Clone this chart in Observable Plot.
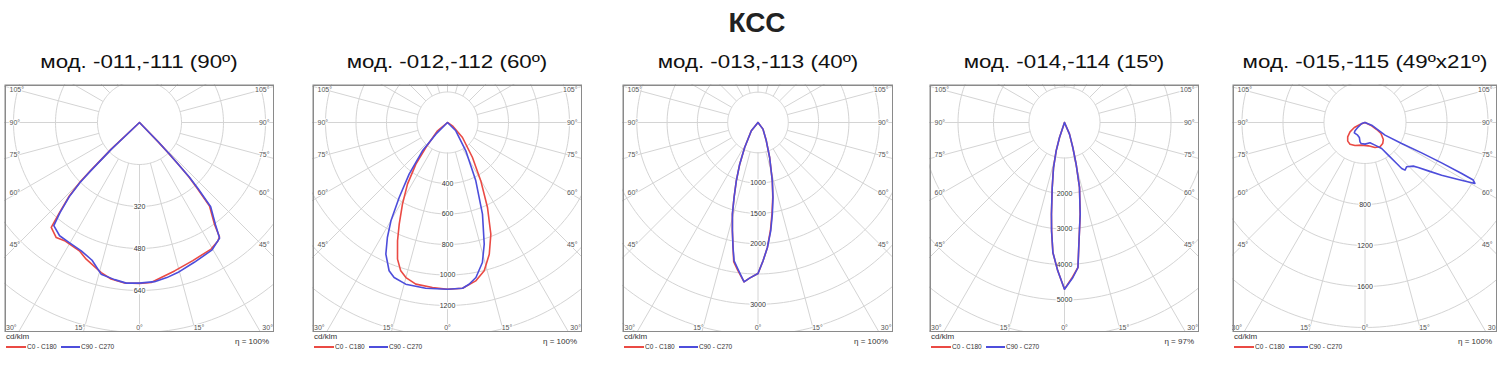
<!DOCTYPE html>
<html>
<head>
<meta charset="utf-8">
<script src="https://cdn.jsdelivr.net/npm/d3@7"></script>
<script src="https://cdn.jsdelivr.net/npm/@observablehq/plot@0.6"></script>
<style>
  html,body{margin:0;padding:0;background:#fff;}
  body{font-family:"Liberation Sans",Arial,Helvetica,sans-serif;}
  #root{position:relative;width:1500px;height:378px;overflow:hidden;background:#fff;}
  #title{position:absolute;left:0;top:6px;width:1514px;text-align:center;font-weight:bold;font-size:28px;line-height:34px;color:#222;}
  .ptitle{position:absolute;top:50px;width:320px;height:24px;line-height:24px;text-align:center;font-size:18px;color:#111;white-space:nowrap;transform:scaleX(1.24);}
  .plotbox{position:absolute;top:84px;}
  .lg{position:absolute;white-space:nowrap;color:#333;}
  .ln{position:absolute;height:1.5px;}
</style>
</head>
<body>
<div id="root"><div id="title"></div></div>
<script>
// ---------------- data ----------------
const mainTitle = "КСС";
const panelTitles = ["мод. -011,-111 (90º)", "мод. -012,-112 (60º)", "мод. -013,-113 (40º)", "мод. -014,-114 (15º)", "мод. -015,-115 (49ºx21º)"];
const efficiency = ["η = 100%", "η = 100%", "η = 100%", "η = 97%", "η = 100%"];
const seriesNames = ["C0 - C180", "C90 - C270"];
const unitLabel = "cd/klm";
const ringSteps = [160, 200, 500, 1000, 400];
const ringLabels = [
  [320, 480, 640],
  [400, 600, 800, 1000, 1200],
  [1000, 1500, 2000, 3000],
  [2000, 3000, 4000, 5000],
  [800, 1200, 1600]
];
const sideAngles = [105, 90, 75, 60, 45];
const bottomAngles = [-30, -15, 0, 15, 30];
const spokeAngles = d3.range(0, 360, 15);

// [gamma (deg from nadir, negative = left half-plane), intensity cd/klm]
const p1_C0 = [[-90,0],[-46.7,148],[-45.5,260],[-45,318],[-43.7,386],[-41.6,459],[-40.1,522],[-35.9,541],[-32.4,533],[-25.1,540],[-21.3,559],[-14.3,590],[-10.3,606],[-5.3,614],[0,613],[4.2,611],[8,596],[13.3,581],[21.1,564],[29.5,554],[33.5,541],[35,531],[36.4,481],[40,415],[41.3,333],[42.3,279],[42.8,216],[43.5,153],[44,100],[90,0]];
const p1_C90 = [[-90,0],[-46.5,150],[-45.3,262],[-44.7,322],[-43.4,390],[-41.4,458],[-39.7,511],[-35.2,528],[-30.5,530],[-24.4,537],[-19,555],[-14.2,596],[-9,606],[-4.7,614],[0,612],[5.4,609],[10,600],[14.3,590],[21.4,572],[29.5,559],[34.7,536],[36.6,486],[40.2,420],[41.5,336],[42.4,282],[42.9,218],[43.6,155],[44.1,102],[90,0]];
const p2_C0 = [[-90,0],[-50.2,85],[-40.9,217],[-37.2,343],[-33,482],[-28.9,611],[-25.4,738],[-22.9,842],[-20.1,954],[-17.5,1020],[-15,1053],[-11.1,1080],[-5.2,1087],[0,1093],[5.2,1091],[10.1,1055],[13.9,1002],[17.6,906],[21.2,786],[25.2,616],[29.7,441],[35.5,282],[45,139],[56,39],[90,0]];
const p2_C90 = [[-90,0],[-45,108],[-41.4,248],[-36.6,422],[-32.8,585],[-29.9,744],[-27.6,851],[-25.1,953],[-21.5,1045],[-19,1075],[-14.5,1095],[-7.5,1096],[0,1093],[5.2,1091],[7.6,1070],[10.4,1033],[14,946],[16.8,833],[20.9,643],[25.9,425],[32.9,221],[45,77],[90,0]];
const p3_C0 = [[-90,0],[-38.7,176],[-28.1,468],[-23.7,751],[-20.4,1027],[-17.7,1299],[-15.6,1571],[-13.3,1837],[-11.3,2103],[-9.9,2330],[-7.9,2455],[-5,2639],[-3.1,2572],[0,2492],[2.1,2284],[4.3,2068],[6.6,1790],[8.8,1515],[11.2,1255],[13.8,991],[18.4,609],[24.4,332],[36.9,137],[90,0]];
const p3_C90 = [[-90,0],[-38.7,176],[-28.1,468],[-23.7,751],[-20.4,1027],[-17.7,1299],[-15.6,1571],[-13.3,1837],[-11.3,2103],[-9.8,2317],[-7.8,2442],[-5,2639],[-3.1,2572],[0,2492],[2.1,2284],[4.3,2068],[6.7,1800],[8.9,1530],[11.3,1262],[13.8,991],[18.4,609],[24.4,332],[36.9,137],[90,0]];
const p4_C0 = [[-90,0],[-18.4,445],[-16.4,832],[-13.7,1305],[-10.7,1864],[-8.1,2608],[-6.8,3074],[-5.1,3677],[-2.6,4183],[0,4695],[2.6,4400],[5.3,4102],[6.5,3545],[9.7,2620],[13,1878],[15.6,1219],[18.4,742],[23.2,357],[90,0]];
const p4_C90 = [[-90,0],[-18.4,445],[-16.4,832],[-13.7,1305],[-10.7,1864],[-8.1,2608],[-6.8,3074],[-5.1,3677],[-2.6,4183],[0,4695],[3.1,4373],[5.3,4102],[6.5,3545],[9.7,2620],[13,1878],[15.6,1219],[18.4,742],[23.2,357],[90,0]];
const p5_C0 = [[-90,0],[-68.2,53],[-64.9,115],[-58.1,172],[-50.4,219],[-42.9,248],[-34.7,257],[-23.5,245],[-8.4,223],[8.1,230],[21.8,263],[31.7,279],[40.1,268],[47.2,244],[55.5,189],[59,133],[63.4,73],[90,0]];
const p5_C90 = [[-90,0],[-73.3,34],[-57,78],[-50.2,127],[-45.9,145],[-30.1,143],[-20.7,156],[-14.5,195],[-10.8,208],[0,211],[13.8,204],[23.8,241],[32.7,301],[35.5,391],[37.3,482],[38.6,574],[40,607],[43.2,593],[47.9,635],[49.8,680],[52.6,777],[55.5,907],[58.6,1066],[61,1226],[62,1196],[62.2,1066],[62.2,845],[61.8,627],[60.2,412],[57.7,231],[68.2,70],[90,0]];
const curves = [[p1_C0, p1_C90], [p2_C0, p2_C90], [p3_C0, p3_C90], [p4_C0, p4_C90], [p5_C0, p5_C90]];

// ---------------- layout ----------------
const RED = "#ea4a44", BLUE = "#4d4ddb", GRID = "#d4d4d4";
const frameLeft = [4, 312, 622, 929, 1232];
const frameWidth = [270, 270, 271, 270, 265];
const frameHeight = 248, centerTop = 38;
const pxPerStep = [42, 30.5, 30.3, 35.5, 41];
const DEG = Math.PI / 180;

const root = document.getElementById("root");
document.getElementById("title").textContent = mainTitle;

function polar(pts, series) {
  return pts.map(([g, I]) => ({series, x: I * Math.sin(g * DEG), y: I * Math.cos(g * DEG)}));
}

for (let i = 0; i < 5; i++) {
  const W = frameWidth[i], H = frameHeight, L = frameLeft[i];
  const step = ringSteps[i];
  const k = pxPerStep[i] / step; // px per cd/klm
  const cx = W / 2, cy = centerTop;
  const xd = [-cx / k, (W - cx) / k];
  const yd = [(H - cy) / k, -cy / k];
  const rings = d3.range(1, 13).map(n => n * step);
  const circ = rings.flatMap(r => d3.range(0, 362, 2).map(a => ({r, x: r * Math.sin(a * DEG), y: r * Math.cos(a * DEG)})));
  const R = 14 * step;
  const spokes = spokeAngles.map(a => ({x1: step * Math.sin(a * DEG), y1: step * Math.cos(a * DEG), x2: R * Math.sin(a * DEG), y2: R * Math.cos(a * DEG)}));
  const data = polar(curves[i][0], seriesNames[0]).concat(polar(curves[i][1], seriesNames[1]));
  const sideX = 122; // px where side labels sit
  const sideY = a => (sideX / Math.tan(a * DEG)) / k;

  const svg = Plot.plot({
    width: W, height: H, margin: 0,
    x: {domain: xd, axis: null},
    y: {domain: yd, axis: null},
    color: {domain: seriesNames, range: [RED, BLUE]},
    style: {fontFamily: "Liberation Sans, Arial, sans-serif", background: "white"},
    marks: [
      Plot.line(circ, {x: "x", y: "y", z: "r", stroke: GRID, strokeWidth: 1, clip: true}),
      Plot.link(spokes, {x1: "x1", y1: "y1", x2: "x2", y2: "y2", stroke: GRID, strokeWidth: 1, clip: true}),
      Plot.text(ringLabels[i], {x: 0, y: d => d, text: d => String(d), fontSize: 7, fill: "#333", stroke: "white", strokeWidth: 2.5}),
      Plot.text(sideAngles, {x: xd[0] + 5 / k, y: sideY, text: a => a + "°", textAnchor: "start", fontSize: 7, fill: "#555", stroke: "white", strokeWidth: 2}),
      Plot.text(sideAngles, {x: xd[1] - 5 / k, y: sideY, text: a => a + "°", textAnchor: "end", fontSize: 7, fill: "#555", stroke: "white", strokeWidth: 2}),
      Plot.text(bottomAngles, {x: a => (222 * Math.tan(a * DEG)) / k, y: (H - cy - 5) / k, text: a => Math.abs(a) + "°", fontSize: 7, fill: "#555", stroke: "white", strokeWidth: 2}),
      Plot.line(data, {x: "x", y: "y", z: "series", stroke: "series", strokeWidth: 1.6, clip: true}),
      Plot.frame({stroke: "#8a8a8a", strokeWidth: 1.5, inset: 0.75})
    ]
  });

  const box = document.createElement("div");
  box.className = "plotbox";
  box.style.left = L + "px";
  box.style.width = W + "px";
  box.appendChild(svg);
  root.appendChild(box);

  const t = document.createElement("div");
  t.className = "ptitle";
  t.textContent = panelTitles[i];
  t.style.left = (L + W / 2 - 160) + "px";
  root.appendChild(t);

  const add = (cls, text, css) => {
    const d = document.createElement("div");
    d.className = cls;
    if (text) d.textContent = text;
    Object.assign(d.style, css);
    root.appendChild(d);
  };
  add("lg", unitLabel, {left: (L + 2) + "px", top: "332px", fontSize: "8px", lineHeight: "10px"});
  add("ln", "", {left: (L + 2) + "px", top: "346px", width: "20px", background: RED});
  add("lg", seriesNames[0], {left: (L + 23) + "px", top: "343px", fontSize: "6.5px", lineHeight: "8px"});
  add("ln", "", {left: (L + 57) + "px", top: "346px", width: "19px", background: BLUE});
  add("lg", seriesNames[1], {left: (L + 77) + "px", top: "343px", fontSize: "6.5px", lineHeight: "8px"});
  add("lg", efficiency[i], {left: (L + W - 80) + "px", width: "75px", textAlign: "right", top: "337px", fontSize: "8px", lineHeight: "10px"});
}
</script>
</body>
</html>
